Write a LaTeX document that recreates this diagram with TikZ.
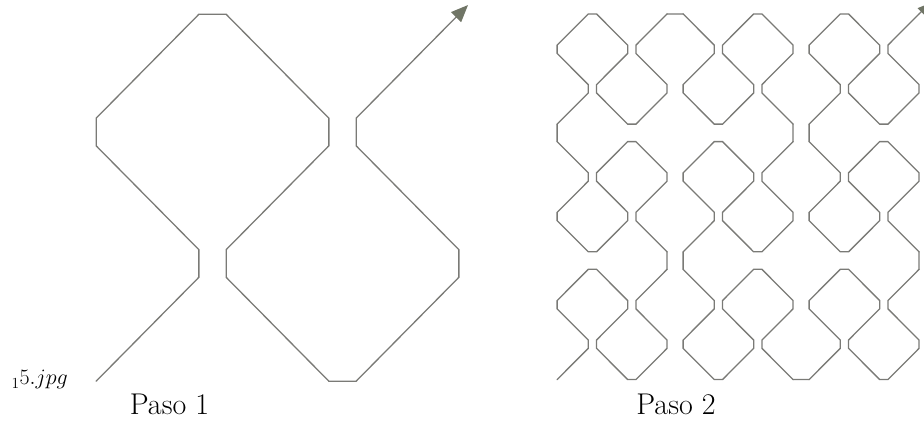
\documentclass[tikz,border=0pt]{standalone}
\usepackage{fix-cm}
\usetikzlibrary{arrows.meta,calc}
\definecolor{cgrey}{RGB}{122,122,118}
\definecolor{chead}{RGB}{112,117,102}
\tikzset{
  curve/.style={cgrey,line width=1.3pt,line cap=round},
  paso/.style={font=\fontsize{30}{36}\selectfont,anchor=base},
  fname/.style={font=\fontsize{22}{26}\selectfont,anchor=base west},
  peano/.pic={
    \draw[curve] (\cf,\cf) coordinate (-s) -- (1-\cf,1-\cf) -- (1-\cf,1+\cf) -- (\cf,2-\cf) -- (\cf,2+\cf)
      -- (1-\cf,3-\cf) -- (1+\cf,3-\cf) -- (2-\cf,2+\cf) -- (2-\cf,2-\cf) -- (1+\cf,1+\cf) -- (1+\cf,1-\cf)
      -- (2-\cf,\cf) -- (2+\cf,\cf) -- (3-\cf,1-\cf) -- (3-\cf,1+\cf) -- (2+\cf,2-\cf) -- (2+\cf,2+\cf)
      -- (3-\cf,3-\cf) coordinate (-e);
    \coordinate (-c) at (3,3);
  }
}

\begin{document}
\begin{tikzpicture}[x=1pt,y=1pt]
    \useasboundingbox (0,0) rectangle (924,422);
    \def\cf{0.105}
    % Paso 1
    \pic[shift={(82.5,27)},xscale=130,yscale=131.5] (s1) {peano};
    \draw[curve,-{Triangle[length=17pt,width=14pt,color=chead]}] (s1-e) -- ($(s1-e)!13pt!(s1-c)$);
    % Paso 2
    \foreach \i/\ox/\oy/\sx/\sy in {1/553/38.3/1/1, 2/671.2/166/-1/1, 3/553/293.7/1/1,
        4/679/412.2/1/-1, 5/797.2/284.5/-1/-1, 6/679/156.8/1/-1,
        7/805/38.3/1/1, 8/923.2/166/-1/1, 9/805/293.7/1/1}
      \pic[shift={(\ox,\oy)},xscale=39.4*\sx,yscale=39.5*\sy] (b\i) {peano};
    \foreach \i [evaluate=\i as \j using int(\i+1)] in {1,...,8}
      \draw[curve] (b\i-e) -- (b\j-s);
    \draw[curve,-{Triangle[length=12pt,width=10pt,color=chead]}] (b9-e) -- ($(b9-e)!15pt!(b9-c)$);
    \node[paso] (p1) at (169.5,7) {Paso 1};
    \node[paso] (p2) at (676,7) {Paso 2};
    \node[fname] (f1) at (8,37) {$_15.jpg$};
\end{tikzpicture}
\end{document}
